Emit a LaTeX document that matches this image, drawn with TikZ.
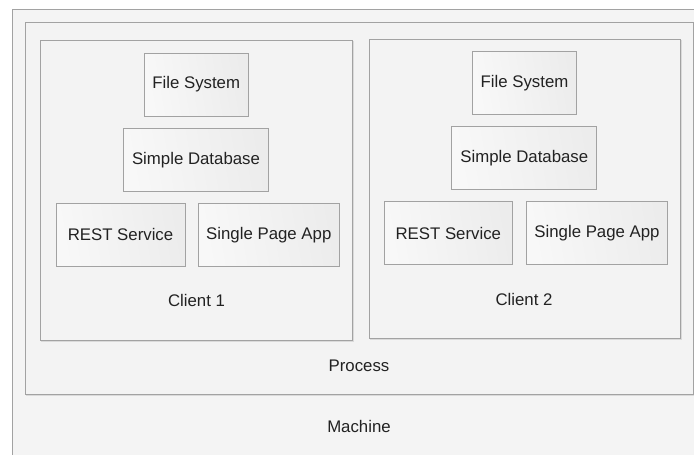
\documentclass[tikz,border=0pt]{standalone}
\usepackage{fontspec}
\setmainfont{Liberation Sans}
\usetikzlibrary{positioning}
\definecolor{edge}{HTML}{A2A2A2}
\definecolor{shade}{HTML}{DADADA}
\definecolor{ink}{HTML}{222222}
\definecolor{panel}{HTML}{F3F3F3}
\definecolor{compL}{HTML}{F8F8F8}
\definecolor{compR}{HTML}{ECECEC}
\tikzset{
  panelbox/.style={draw=edge, line width=1pt, fill=panel},
  comp/.style={draw=edge, line width=1pt, left color=compL, right color=compR,
    shading angle=100, rectangle, inner sep=0pt, minimum height=63pt,
    font=\fontsize{16.8}{19}\selectfont, text=ink},
  caption/.style={font=\fontsize{16.8}{19}\selectfont, text=ink, inner sep=0pt},
  dropshade/.style={draw=shade, line width=1pt},
}
\begin{document}
\begin{tikzpicture}[x=1pt, y=-1pt]
\useasboundingbox (0,0) rectangle (694,455);
\fill[white] (0,0) rectangle (694,455);
\clip (0,0) rectangle (694,455);

% machine and process frames
\draw[dropshade] (13.3,10.5) rectangle (720,480);
\draw[panelbox, fill=panel!92!white] (12.3,9.5) rectangle (720,480);
\draw[dropshade] (26,23.3) rectangle (694.5,395.5);
\draw[panelbox] (25,22.3) rectangle (693.5,394.5);

% client frames
\draw[dropshade] (41,41.7) rectangle (353.5,341);
\draw[panelbox] (40,40.7) rectangle (352.5,340);
\draw[dropshade] (370,40.3) rectangle (681.7,339.7);
\draw[panelbox] (369,39.3) rectangle (680.7,338.7);

% client 1 components
\node[comp, minimum width=103.7pt] (fs1)   at (196.2,84.5)  {File System};
\node[comp, minimum width=145.4pt] (db1)   at (196,159.8)   {Simple Database};
\node[comp, minimum width=129pt]   (rest1) at (120.5,234.7) {REST Service};
\node[comp, minimum width=141pt]   (spa1)  at (268.8,234.7) {Single Page App};
\node[caption] (c1) at (196.5,300.5) {Client 1};

% client 2 components
\node[comp, minimum width=103.6pt] (fs2)   at (524.5,83.2)  {File System};
\node[comp, minimum width=145.3pt] (db2)   at (524.3,158.4) {Simple Database};
\node[comp, minimum width=128pt]   (rest2) at (448.3,233.2) {REST Service};
\node[comp, minimum width=141.4pt] (spa2)  at (597,233.2)   {Single Page App};
\node[caption] (c2) at (524,299.5) {Client 2};

% frame captions
\node[caption] (proc) at (359,365.7) {Process};
\node[caption] (mach) at (359,426.5) {Machine};
\end{tikzpicture}
\end{document}
